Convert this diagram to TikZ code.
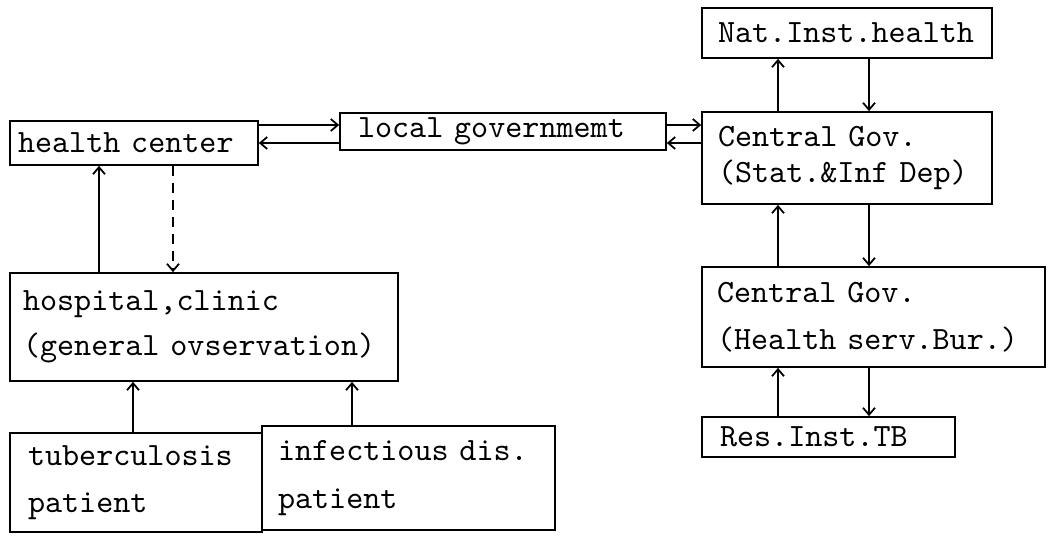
\documentclass[tikz,border=0pt]{standalone}
\usepackage{fontspec}
\setmonofont{lmmono10-regular.otf}[WordSpace={1,0,0}]
\usetikzlibrary{arrows.meta}
\newcommand{\boxfont}[1]{\fontsize{18.5pt}{#1}\selectfont\ttfamily}

\begin{document}
\begin{tikzpicture}[
  x=0.02cm, y=-0.02cm,
  box/.style={draw, rectangle, line width=1pt, align=left, inner xsep=0.32cm, inner ysep=0pt, font=\boxfont{27pt}},
  link/.style={->, line width=1pt},
  >={Straight Barb[length=0.14cm, width=0.24cm]}
]
\useasboundingbox (0,0) rectangle (1054,536);

% Local side
\node[box, inner xsep=0.16cm, text width=4.64cm, minimum height=0.88cm] (hc) at (134,143) {health center};
\node[box, inner xsep=0.36cm, text width=5.8cm, minimum height=0.74cm] (lg) at (503,131.5) {local governmemt};
\node[box, font=\boxfont{25.5pt}, inner xsep=0.26cm, text width=7.24cm, minimum height=2.16cm] (hos) at (204,327) {hospital,clinic\\(general ovservation)};
\node[box, inner xsep=0.36cm, text width=4.32cm, minimum height=1.98cm] (tb) at (136,482.5) {tuberculosis\\patient};
\node[box, text width=5.22cm, minimum height=2.08cm] (inf) at (408.5,478) {infectious dis.\\patient};

% Central side
\node[box, text width=5.16cm, minimum height=1.0cm] (nih) at (847,33) {Nat.Inst.health};
\node[box, font=\boxfont{21pt}, text width=5.16cm, minimum height=1.84cm] (cgs) at (847,158) {Central Gov.\\(Stat.\&Inf Dep)};
\node[box, inner xsep=0.3cm, text width=6.26cm, minimum height=2.0cm] (cgh) at (873.5,317) {Central Gov.\\(Health serv.Bur.)};
\node[box, inner xsep=0.36cm, text width=4.34cm, minimum height=0.8cm] (rit) at (828.5,437) {Res.Inst.TB};

% Lanes for the connectors
\coordinate (rowhi) at (0,125);
\coordinate (rowlo) at (0,143);
\coordinate (hcup) at (99,0);
\coordinate (hcdown) at (173,0);
\coordinate (tbup) at (133,0);
\coordinate (infup) at (352,0);
\coordinate (cup) at (778,0);
\coordinate (cdown) at (869,0);

% Arrows between local offices
\draw[link] (hc.east |- rowhi) -- (lg.west |- rowhi);
\draw[link] (lg.west |- rowlo) -- (hc.east |- rowlo);
\draw[link] (lg.east |- rowhi) -- (cgs.west |- rowhi);
\draw[link] (cgs.west |- rowlo) -- (lg.east |- rowlo);

% Arrows in the local column
\draw[link] (hos.north -| hcup) -- (hc.south -| hcup);
\draw[link, dash pattern=on 0.2cm off 0.14cm] (hc.south -| hcdown) -- (hos.north -| hcdown);
\draw[link] (tb.north -| tbup) -- (hos.south -| tbup);
\draw[link] (inf.north -| infup) -- (hos.south -| infup);

% Arrows in the central column
\draw[link] (cgs.north -| cup) -- (nih.south -| cup);
\draw[link] (nih.south -| cdown) -- (cgs.north -| cdown);
\draw[link] (cgh.north -| cup) -- (cgs.south -| cup);
\draw[link] (cgs.south -| cdown) -- (cgh.north -| cdown);
\draw[link] (rit.north -| cup) -- (cgh.south -| cup);
\draw[link] (cgh.south -| cdown) -- (rit.north -| cdown);

\end{tikzpicture}
\end{document}
